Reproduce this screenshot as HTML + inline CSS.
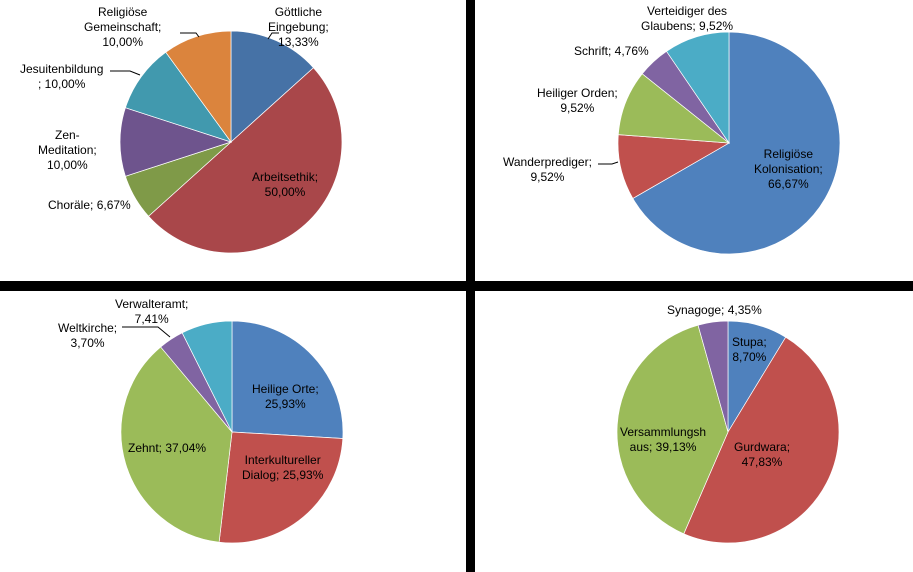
<!DOCTYPE html>
<html><head><meta charset="utf-8"><style>
body{margin:0;width:913px;height:572px;background:#fff;overflow:hidden;position:relative;font-family:"Liberation Sans",sans-serif;font-size:12px;color:#000}
.l{position:absolute;text-align:center;line-height:15px;white-space:nowrap}
svg{position:absolute;left:0;top:0}
</style></head><body>
<svg id="s" width="913" height="572"></svg>
<div class="l" style="left:268px;top:5px">Göttliche<br>Eingebung;<br>13,33%</div>
<div class="l" style="left:84px;top:5px">Religiöse<br>Gemeinschaft;<br>10,00%</div>
<div class="l" style="left:20px;top:62px">Jesuitenbildung<br>; 10,00%</div>
<div class="l" style="left:38px;top:128px">Zen-<br>Meditation;<br>10,00%</div>
<div class="l" style="left:48px;top:198px">Choräle; 6,67%</div>
<div class="l" style="left:252px;top:170px">Arbeitsethik;<br>50,00%</div>

<div class="l" style="left:641px;top:4px">Verteidiger des<br>Glaubens; 9,52%</div>
<div class="l" style="left:574px;top:44px">Schrift; 4,76%</div>
<div class="l" style="left:537px;top:86px">Heiliger Orden;<br>9,52%</div>
<div class="l" style="left:503px;top:155px">Wanderprediger;<br>9,52%</div>
<div class="l" style="left:754px;top:147px">Religiöse<br>Kolonisation;<br>66,67%</div>

<div class="l" style="left:115px;top:297px">Verwalteramt;<br>7,41%</div>
<div class="l" style="left:58px;top:321px">Weltkirche;<br>3,70%</div>
<div class="l" style="left:252px;top:382px">Heilige Orte;<br>25,93%</div>
<div class="l" style="left:242px;top:453px">Interkultureller<br>Dialog; 25,93%</div>
<div class="l" style="left:128px;top:441px">Zehnt; 37,04%</div>

<div class="l" style="left:667px;top:303px">Synagoge; 4,35%</div>
<div class="l" style="left:732px;top:335px">Stupa;<br>8,70%</div>
<div class="l" style="left:620px;top:425px">Versammlungsh<br>aus; 39,13%</div>
<div class="l" style="left:734px;top:440px">Gurdwara;<br>47,83%</div>
<script>
var s=document.getElementById('s'),h='';
function pie(cx,cy,r,vals,cols){var a=0,t=vals.reduce((x,y)=>x+y,0);
vals.forEach(function(v,i){var a2=a+v/t*2*Math.PI;
var x1=cx+r*Math.sin(a),y1=cy-r*Math.cos(a),x2=cx+r*Math.sin(a2),y2=cy-r*Math.cos(a2);
h+='<path d="M'+cx+','+cy+'L'+x1+','+y1+'A'+r+','+r+' 0 '+((a2-a)>Math.PI?1:0)+' 1 '+x2+','+y2+'Z" fill="'+cols[i]+'" stroke="#fff" stroke-width="0.7"/>';a=a2;});}
pie(231,142,111,[13.33,50,6.67,10,10,10],['#4672A6','#A9474A','#7F9A48','#6E548D','#4199AE','#DB843D']);
pie(729,143,111,[66.67,9.52,9.52,4.76,9.52],['#4F81BD','#C0504D','#9BBB59','#8064A2','#4BACC6']);
pie(232,432,111,[25.93,25.93,37.04,3.70,7.41],['#4F81BD','#C0504D','#9BBB59','#8064A2','#4BACC6']);
pie(728,432,111,[8.70,47.83,39.13,4.35],['#4F81BD','#C0504D','#9BBB59','#8064A2']);
h+='<polyline points="180,33 196,33 199,37" fill="none" stroke="#000"/>';
h+='<polyline points="279,33 272,33 268,39" fill="none" stroke="#000"/>';
h+='<polyline points="110,71 130,71 140,75" fill="none" stroke="#000"/>';
h+='<polyline points="598,164 612,164 618,162" fill="none" stroke="#000"/>';
h+='<polyline points="110,327 160,327 170,336" fill="none" stroke="#000" opacity="0"/>';
h+='<polyline points="122,327 158,327 170,337" fill="none" stroke="#000"/>';
h+='<rect x="466" y="0" width="9" height="572" fill="#000"/>';
h+='<rect x="0" y="281" width="913" height="10" fill="#000"/>';
s.innerHTML=h;
</script>
</body></html>
